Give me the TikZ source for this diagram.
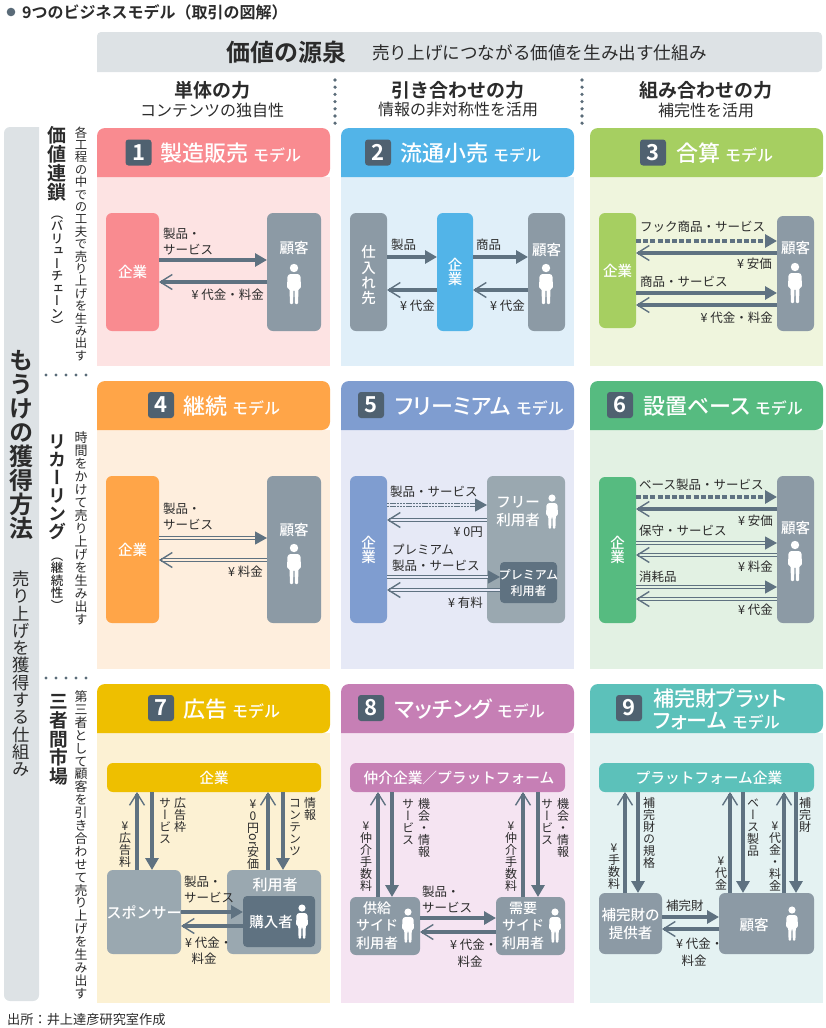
\documentclass[tikz,border=0pt]{standalone}
\usepackage{fontspec}
\usepackage{graphicx}
\usetikzlibrary{arrows.meta}
\setmainfont{Noto Sans CJK JP}[BoldFont={Noto Sans CJK JP Medium}]
\newfontfamily\vjp{Noto Sans CJK JP}[BoldFont={Noto Sans CJK JP Medium},RawFeature=+vert]
\newfontfamily\pjp{Noto Sans CJK JP}[BoldFont={Noto Sans CJK JP Medium},RawFeature=+palt]
\newfontfamily\hjp{Noto Sans CJK JP Bold}
\newfontfamily\hvjp{Noto Sans CJK JP Bold}[RawFeature=+vert]
\definecolor{mBand} {HTML}{DDE2E5}
\definecolor{mDot}  {HTML}{5A6B78}
\definecolor{mEdge} {HTML}{5F7281}
\definecolor{mDark} {HTML}{4F6170}
\definecolor{mGray} {HTML}{8C9AA5}
\definecolor{mPale} {HTML}{9AA8B0}
\definecolor{mText} {HTML}{2B2B2B}
\definecolor{mRed}  {HTML}{F98B90}\definecolor{mRedBg}  {HTML}{FDE3E3}
\definecolor{mSky}  {HTML}{52B4E8}\definecolor{mSkyBg}  {HTML}{E0EFF9}
\definecolor{mLime} {HTML}{A6CF61}\definecolor{mLimeBg} {HTML}{EFF5DD}
\definecolor{mOrg}  {HTML}{FFA548}\definecolor{mOrgBg}  {HTML}{FEEEDD}
\definecolor{mBlue} {HTML}{7F9DD0}\definecolor{mBlueBg} {HTML}{E6E9F6}
\definecolor{mGrn}  {HTML}{56BB80}\definecolor{mGrnBg}  {HTML}{E2F1E3}
\definecolor{mYel}  {HTML}{EEBF00}\definecolor{mYelBg}  {HTML}{FCF1D3}
\definecolor{mPur}  {HTML}{C67FB5}\definecolor{mPurBg}  {HTML}{F5E4F2}
\definecolor{mTeal} {HTML}{5CC1BA}\definecolor{mTealBg} {HTML}{E4F2F2}
\newcommand{\fsz}[2]{\fontsize{#1}{#2}\selectfont}
\newcommand{\mdl}{\kern5pt\rmfamily\fsz{16}{16}\bfseries モデル}
\newcommand{\tatecell}[1]{\hbox to 1em{\hss\vrule width 0pt height \tatep\dimexpr.88em\relax depth \tatep\dimexpr.12em\relax\smash{#1}\hss}}
\ExplSyntaxOn
\NewDocumentCommand{\tate}{O{1}m}{\vbox{\offinterlineskip\def\tatep{#1}\tl_map_function:nN{#2}\tatecell}}
\ExplSyntaxOff
\newcommand{\cardbox}[6]{%
  \fill[#6] (#1,#3) rectangle ({#1+233},#4);
  \fill[#5,rounded corners=8] (#1,#3) -- (#1,#2) -- ({#1+233},#2) -- ({#1+233},#3) [sharp corners] -- cycle;}

\begin{document}
\begin{tikzpicture}[
  x=1pt, y=-1pt, font=\fsz{12.5}{16}, text=mText,
  box/.style={rounded corners=6, draw=none, inner sep=0, outer sep=0, text=white},
  boxt/.style={inner sep=0, text=white, align=center, font=\fsz{14.5}{18}\bfseries},
  boxv/.style={inner sep=0, text=white, font=\vjp\fsz{14.5}{14.5}\bfseries},
  badge/.style={rounded corners=3, fill=mDark, text=white, inner sep=0, minimum size=26, font=\hjp\fsz{22}{22}},
  ttl/.style={anchor=west, inner sep=0, text=white, align=left, font=\pjp\fsz{22}{22}\bfseries},
  lbl/.style={anchor=west, inner sep=0, align=left},
  lblr/.style={anchor=east, inner sep=0, align=right},
  lblc/.style={inner sep=0},
  vlbl/.style={anchor=north, inner sep=0, font=\vjp\fsz{12}{12}},
  hdr/.style={inner sep=0, font=\hjp\fsz{19}{20}},
  sub/.style={inner sep=0, font=\fsz{16}{18}},
  flow/.style={-{Triangle[length=12pt,width=13pt]}, draw=mEdge, line width=3.2pt},
  flowd/.style={flow, dash pattern=on 5pt off 2.2pt},
  back/.style={-{Straight Barb[length=12pt,width=15pt,line width=1.4pt]}, draw=mEdge, line width=3.2pt},
  flowe/.style={flow, line width=1.2pt, double=#1, double distance=1.3pt},
  backe/.style={back, line width=1.2pt, double=#1, double distance=1.3pt},
  dots/.style={draw=mDot, line width=3.6pt, line cap=round},
  person/.pic={
    \fill[white] (0,0) circle (4.2);
    \fill[white,rounded corners=1] (-4.5,6) -- (4.5,6) -- (6.5,8) -- (7,20) -- (4.5,21) -- (4,36) -- (1,36)
      -- (.5,22) -- (-.5,22) -- (-1,36) -- (-4,36) -- (-4.5,21) -- (-7,20) -- (-6.5,8) -- cycle;
  },
]
\useasboundingbox (0,0) rectangle (826,1028);

% ---------------------------------------------------------------- title
\fill[mDot] (11,12) circle (4.3);
\node[anchor=west, inner sep=0, font=\hjp\fsz{16}{16}] at (22,12) (title) {9つのビジネスモデル（取引の図解）};
\node[anchor=west, inner sep=0, font=\fsz{13.2}{14}] at (7,1020) (source) {出所：井上達彦研究室作成};

% ---------------------------------------------------------------- bands
\fill[mBand,rounded corners=4] (97,72) -- (97,32) -- (822,32) -- (822,72) [sharp corners] -- cycle;
\fill[mBand,rounded corners=6] (39,127) -- (4,127) -- (4,1001) -- (39,1001) [sharp corners] -- cycle;
\node[anchor=west, inner sep=0, font=\hjp\fsz{24}{24}] at (226,52) (src) {価値の源泉};
\node[anchor=west, inner sep=0, font=\fsz{17.6}{18}] at (372,53) (srcsub) {売り上げにつながる価値を生み出す仕組み};

% ---------------------------------------------------------------- columns
\node[hdr] at (212,90) (cA) {単体の力};
\node[sub] at (212,110) (cAs) {コンテンツの独自性};
\node[hdr] at (458,90) (cB) {引き合わせの力};
\node[sub] at (458,110) (cBs) {情報の非対称性を活用};
\node[hdr] at (706,90) (cC) {組み合わせの力};
\node[sub] at (706,110) (cCs) {補完性を活用};
\draw[dots, dash pattern=on 0pt off 7.2pt] (335,80) -- (335,126);
\draw[dots, dash pattern=on 0pt off 7.2pt] (582,80) -- (582,126);

% ---------------------------------------------------------------- rows
\node[anchor=north, inner sep=0, font=\hvjp\fsz{24}{24}] at (21.5,348) (rM) {\tate{もうけの獲得方法}};
\node[anchor=north, inner sep=0, font=\vjp\fsz{17.3}{18}] at (21.5,570) (rMs) {\tate{売り上げを獲得する仕組み}};
\node[anchor=north, inner sep=0, font=\hvjp\fsz{19}{19}] at (57,126) (rA) {\tate{価値連鎖}};
\node[anchor=north, inner sep=0, font=\vjp\fsz{12.5}{12}\bfseries] at (57,207) (rAb) {\tate{（バリューチェーン）}};
\node[anchor=north, inner sep=0, font=\vjp\fsz{12.4}{13}] at (81,126) (rAs) {\tate{各工程の中での工夫で売り上げを生み出す}};
\node[anchor=north, inner sep=0, font=\hvjp\fsz{18}{18}] at (57,432) (rB) {\tate{リカーリング}};
\node[anchor=north, inner sep=0, font=\vjp\fsz{12.5}{12}\bfseries] at (57,549) (rBb) {\tate{（継続性）}};
\node[anchor=north, inner sep=0, font=\vjp\fsz{13}{13}] at (81,431) (rBs) {\tate{時間をかけて売り上げを生み出す}};
\node[anchor=north, inner sep=0, font=\hvjp\fsz{18.7}{19}] at (59,692) (rC) {\tate{三者間市場}};
\node[anchor=north, inner sep=0, font=\vjp\fsz{12.9}{13}] at (81,690) (rCs) {\tate{第三者として顧客を引き合わせて売り上げを生み出す}};
\draw[dots, line width=3.2pt, dash pattern=on 0pt off 10pt] (46,375) -- (90,375);
\draw[dots, line width=3.2pt, dash pattern=on 0pt off 10pt] (46,678) -- (90,678);

% ---------------------------------------------------------------- cards
\cardbox{97}{128}{177}{366}{mRed}{mRedBg}
\cardbox{341}{128}{177}{366}{mSky}{mSkyBg}
\cardbox{590}{128}{177}{366}{mLime}{mLimeBg}
\cardbox{97}{381}{430}{669}{mOrg}{mOrgBg}
\cardbox{341}{381}{430}{669}{mBlue}{mBlueBg}
\cardbox{590}{381}{430}{669}{mGrn}{mGrnBg}
\cardbox{97}{684}{733}{1003}{mYel}{mYelBg}
\cardbox{341}{684}{733}{1003}{mPur}{mPurBg}
\cardbox{590}{684}{733}{1003}{mTeal}{mTealBg}

\node[badge] at (138.5,152.5) (bA) {1};
\node[ttl] at (160,153) (tA) {製造販売\mdl};
\node[badge] at (378,152.5) (bB) {2};
\node[ttl] at (400,153) (tB) {流通小売\mdl};
\node[badge] at (653,152.5) (bC) {3};
\node[ttl] at (676,153) (tC) {合算\mdl};
\node[badge] at (161,405) (bD) {4};
\node[ttl] at (183,406) (tD) {継続\mdl};
\node[badge] at (371,405) (bE) {5};
\node[ttl] at (395,406) (tE) {フリーミアム\mdl};
\node[badge] at (620,405) (bF) {6};
\node[ttl] at (643,406) (tF) {設置ベース\mdl};
\node[badge] at (161,708) (bG) {7};
\node[ttl] at (183,709) (tG) {広告\mdl};
\node[badge] at (371,708) (bH) {8};
\node[ttl] at (395,709) (tH) {マッチング\mdl};
\node[badge] at (629,708) (bI) {9};
\node[ttl, font=\pjp\fsz{21}{22}\bfseries] at (653,709) (tI) {補完財プラット\\フォーム\mdl};

% ---------------------------------------------------------------- 1
\node[box, fill=mRed, minimum width=53, minimum height=118] at (132.5,272) (kgA) {};
\node[box, fill=mGray, minimum width=54, minimum height=118] at (294,272) (kyA) {};
\node[boxt] at (132.5,272) (kgAt) {企業};
\node[boxt] at (294,248) (kyAt) {顧客};
\pic at (294,268) {person};
\draw[flow] (kgA.east |- 0,260) -- (kyA.west |- 0,260);
\draw[back] (kyA.west |- 0,282) -- (kgA.east |- 0,282);
\node[lbl] at (163,242) (lA1) {製品・\\サービス};
\node[lblr] at (264,295) (lA2) {¥ 代金・料金};

% ---------------------------------------------------------------- 2
\node[box, fill=mGray, minimum width=37, minimum height=118] at (368.5,272) (siB) {};
\node[box, fill=mSky, minimum width=36, minimum height=118] at (455,272) (kgB) {};
\node[box, fill=mGray, minimum width=37, minimum height=118] at (546.5,272) (kyB) {};
\node[boxv] at (368.5,275) (siBt) {\tate[1.05]{仕入れ先}};
\node[boxv] at (455,272) (kgBt) {\tate{企業}};
\node[boxt] at (546.5,250) (kyBt) {顧客};
\pic at (546,268) {person};
\draw[flow] (siB.east |- 0,257) -- (kgB.west |- 0,257);
\draw[back] (kgB.west |- 0,290) -- (siB.east |- 0,290);
\draw[flow] (kgB.east |- 0,257) -- (kyB.west |- 0,257);
\draw[back] (kyB.west |- 0,290) -- (kgB.east |- 0,290);
\node[lbl] at (391,245) (lB1) {製品};
\node[lblr] at (435,306) (lB2) {¥ 代金};
\node[lbl] at (476,245) (lB3) {商品};
\node[lblr] at (525,306) (lB4) {¥ 代金};

% ---------------------------------------------------------------- 3
\node[box, fill=mLime, minimum width=37, minimum height=115] at (617.5,270.5) (kgC) {};
\node[box, fill=mGray, minimum width=37, minimum height=115] at (795.5,273.5) (kyC) {};
\node[boxt] at (617.5,271) (kgCt) {企業};
\node[boxt] at (795.5,248) (kyCt) {顧客};
\pic at (795,267) {person};
\draw[flowd] (kgC.east |- 0,241) -- (kyC.west |- 0,241);
\draw[back] (kyC.west |- 0,253) -- (kgC.east |- 0,253);
\draw[flow] (kgC.east |- 0,293) -- (kyC.west |- 0,293);
\draw[back] (kyC.west |- 0,305) -- (kgC.east |- 0,305);
\node[lbl] at (640,227) (lC1) {フック商品・サービス};
\node[lblr] at (772,264) (lC2) {¥ 安価};
\node[lbl] at (640,282) (lC3) {商品・サービス};
\node[lblr] at (773,318) (lC4) {¥ 代金・料金};

% ---------------------------------------------------------------- 4
\node[box, fill=mOrg, minimum width=53, minimum height=147] at (132.5,549.5) (kgD) {};
\node[box, fill=mGray, minimum width=54, minimum height=147] at (294,549.5) (kyD) {};
\node[boxt] at (132.5,550) (kgDt) {企業};
\node[boxt] at (294,530) (kyDt) {顧客};
\pic at (294,548) {person};
\draw[flowe=mOrgBg] (kgD.east |- 0,538) -- (kyD.west |- 0,538);
\draw[backe=mOrgBg] (kyD.west |- 0,560) -- (kgD.east |- 0,560);
\node[lbl] at (163,517) (lD1) {製品・\\サービス};
\node[lblr] at (263,572) (lD2) {¥ 料金};

% ---------------------------------------------------------------- 5
\node[box, fill=mBlue, minimum width=37, minimum height=147] at (368.5,549.5) (kgE) {};
\node[box, fill=mPale, minimum width=78, minimum height=147] at (526,549.5) (frE) {};
\node[box, fill=mEdge, rounded corners=4, minimum width=57, minimum height=41] at (528.5,582.5) (prE) {};
\node[boxv] at (368.5,550) (kgEt) {\tate{企業}};
\node[boxt, font=\fsz{14.5}{18}\bfseries] at (518,512) (frEt) {フリー\\利用者};
\node[boxt, font=\fsz{12}{16}\bfseries] at (528.5,582.5) (prEt) {プレミアム\\利用者};
\pic[scale=.85] at (552,498) {person};
\draw[flowe=mBlueBg, dash pattern=on 2.4pt off .8pt] (kgE.east |- 0,505) -- (frE.west |- 0,505);
\draw[backe=mBlueBg] (frE.west |- 0,520) -- (kgE.east |- 0,520);
\draw[flowe=mBlueBg] (kgE.east |- 0,577) -- (prE.west |- 0,577);
\draw[backe=mBlueBg] (prE.west |- 0,590) -- (kgE.east |- 0,590);
\node[lbl] at (390,492) (lE1) {製品・サービス};
\node[lblr] at (483,532) (lE2) {¥ 0円};
\node[lbl] at (392,558) (lE3) {プレミアム\\製品・サービス};
\node[lblr] at (483,603) (lE4) {¥ 有料};

% ---------------------------------------------------------------- 6
\node[box, fill=mGrn, minimum width=37, minimum height=146] at (617.5,550) (kgF) {};
\node[box, fill=mGray, minimum width=37, minimum height=147] at (795.5,549.5) (kyF) {};
\node[boxv] at (617.5,550) (kgFt) {\tate{企業}};
\node[boxt] at (795.5,528) (kyFt) {顧客};
\pic at (795,545) {person};
\draw[flowd] (kgF.east |- 0,497) -- (kyF.west |- 0,497);
\draw[back] (kyF.west |- 0,509) -- (kgF.east |- 0,509);
\draw[flowe=mGrnBg] (kgF.east |- 0,543) -- (kyF.west |- 0,543);
\draw[backe=mGrnBg] (kyF.west |- 0,555) -- (kgF.east |- 0,555);
\draw[flowe=mGrnBg] (kgF.east |- 0,587) -- (kyF.west |- 0,587);
\draw[backe=mGrnBg] (kyF.west |- 0,599) -- (kgF.east |- 0,599);
\node[lbl] at (639,485) (lF1) {ベース製品・サービス};
\node[lblr] at (773,521) (lF2) {¥ 安価};
\node[lbl] at (639,531) (lF3) {保守・サービス};
\node[lblr] at (773,567) (lF4) {¥ 料金};
\node[lbl] at (639,577) (lF5) {消耗品};
\node[lblr] at (773,610) (lF6) {¥ 代金};

% ---------------------------------------------------------------- 7
\node[box, fill=mYel, minimum width=214, minimum height=29] at (214,777.5) (kgG) {};
\node[box, fill=mPale, minimum width=74, minimum height=84] at (144,912) (spG) {};
\node[box, fill=mPale, minimum width=94, minimum height=84] at (274,912) (riG) {};
\node[box, fill=mEdge, rounded corners=4, minimum width=72, minimum height=51] at (279,921.5) (knG) {};
\node[boxt] at (214,778) (kgGt) {企業};
\node[boxt, font=\fsz{15}{18}\bfseries] at (144,912) (spGt) {スポンサー};
\node[boxt, font=\fsz{15}{18}\bfseries] at (275,885) (riGt) {利用者};
\node[boxt, font=\fsz{14.5}{18}\bfseries] at (271,922) (knGt) {購入者};
\pic[scale=.85] at (302,908) {person};
\draw[back] (spG.north -| 137,0) -- (kgG.south -| 137,0);
\draw[flow] (kgG.south -| 152,0) -- (spG.north -| 152,0);
\draw[back] (riG.north -| 268,0) -- (kgG.south -| 268,0);
\draw[flow] (kgG.south -| 283,0) -- (riG.north -| 283,0);
\draw[flow] (spG.east |- 0,912) -- (knG.west |- 0,912);
\draw[back] (knG.west |- 0,926) -- (spG.east |- 0,926);
\node[vlbl] at (125,820) (lG1) {\tate{¥広告料}};
\node[vlbl] at (165,797) (lG2) {\tate{サービス}};
\node[vlbl] at (180,797) (lG3) {\tate{広告枠}};
\node[vlbl] at (253,798) (lG4) {\tate{¥0円{\raisebox{.9em}{\rotatebox{-90}{\rmfamily\fsz{12.5}{13}or}}}安価}};
\node[vlbl] at (295,797) (lG5) {\tate{コンテンツ}};
\node[vlbl] at (310,797) (lG6) {\tate{情報}};
\node[lbl] at (184,890) (lG7) {製品・\\サービス};
\node[lbl] at (185,943) (lG8) {¥ 代金・};
\node[lblc] at (204,959) (lG9) {料金};

% ---------------------------------------------------------------- 8
\node[box, fill=mPur, minimum width=215, minimum height=29] at (457.5,777.5) (kgH) {};
\node[box, fill=mGray, minimum width=70, minimum height=58] at (385,926) (suH) {};
\node[box, fill=mGray, minimum width=69, minimum height=58] at (530.5,926) (deH) {};
\node[boxt, font=\fsz{14.7}{18}\bfseries] at (459,778) (kgHt) {仲介企業／プラットフォーム};
\node[boxt, font=\fsz{14}{17.5}\bfseries] at (377,925.5) (suHt) {供給\\サイド\\利用者};
\node[boxt, font=\fsz{14}{17.5}\bfseries] at (523,925.5) (deHt) {需要\\サイド\\利用者};
\pic[scale=.85] at (408,912) {person};
\pic[scale=.85] at (555,912) {person};
\draw[back] (suH.north -| 378,0) -- (kgH.south -| 378,0);
\draw[flow] (kgH.south -| 392,0) -- (suH.north -| 392,0);
\draw[back] (deH.north -| 523,0) -- (kgH.south -| 523,0);
\draw[flow] (kgH.south -| 538,0) -- (deH.north -| 538,0);
\draw[flow] (suH.east |- 0,918) -- (deH.west |- 0,918);
\draw[back] (deH.west |- 0,932) -- (suH.east |- 0,932);
\node[vlbl] at (366,820) (lH1) {\tate{¥仲介手数料}};
\node[vlbl] at (408,798) (lH2) {\tate{サービス}};
\node[vlbl] at (424,798) (lH3) {\tate{機会・情報}};
\node[vlbl] at (511,820) (lH4) {\tate{¥仲介手数料}};
\node[vlbl] at (547,798) (lH5) {\tate{サービス}};
\node[vlbl] at (563,798) (lH6) {\tate{機会・情報}};
\node[lbl] at (422,900) (lH7) {製品・\\サービス};
\node[lbl] at (450,945) (lH8) {¥ 代金・};
\node[lblc] at (470,962) (lH9) {料金};

% ---------------------------------------------------------------- 9
\node[box, fill=mTeal, minimum width=215, minimum height=29] at (706.5,777.5) (kgI) {};
\node[box, fill=mGray, minimum width=63, minimum height=61] at (630.5,923.5) (pvI) {};
\node[box, fill=mGray, minimum width=95, minimum height=61] at (766.5,923.5) (kyI) {};
\node[boxt, font=\fsz{14.7}{18}\bfseries] at (709,778) (kgIt) {プラットフォーム企業};
\node[boxt, font=\fsz{14.5}{18}\bfseries] at (630.5,924) (pvIt) {補完財の\\提供者};
\node[boxt] at (754,925) (kyIt) {顧客};
\pic[scale=.85] at (792,910) {person};
\draw[back] (pvI.north -| 625,0) -- (kgI.south -| 625,0);
\draw[flow] (kgI.south -| 638,0) -- (pvI.north -| 638,0);
\draw[back] (kyI.north -| 730,0) -- (kgI.south -| 730,0);
\draw[flow] (kgI.south -| 743,0) -- (kyI.north -| 743,0);
\draw[back] (kyI.north -| 784,0) -- (kgI.south -| 784,0);
\draw[flow] (kgI.south -| 796,0) -- (kyI.north -| 796,0);
\draw[flow] (pvI.east |- 0,917) -- (kyI.west |- 0,917);
\draw[back] (kyI.west |- 0,929) -- (pvI.east |- 0,929);
\node[vlbl] at (614,842) (lI1) {\tate{¥手数料}};
\node[vlbl] at (649,797) (lI2) {\tate{補完財の規格}};
\node[vlbl] at (721,855) (lI3) {\tate{¥代金}};
\node[vlbl] at (753,797) (lI4) {\tate{ベース製品}};
\node[vlbl] at (775,820) (lI5) {\tate{¥代金・料金}};
\node[vlbl] at (805,797) (lI6) {\tate{補完財}};
\node[lbl] at (666,906) (lI7) {補完財};
\node[lbl] at (676,944) (lI8) {¥ 代金・};
\node[lblc] at (694,961) (lI9) {料金};

\end{tikzpicture}
\end{document}
